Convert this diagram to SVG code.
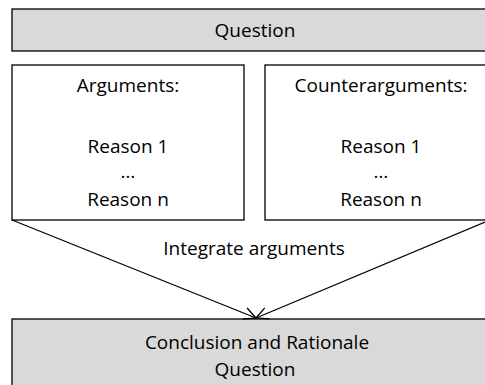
<svg xmlns="http://www.w3.org/2000/svg" width="485" height="385" viewBox="0 0 485 385">
<style>
.box{stroke:#000;stroke-width:1.3}
.g{fill:#d9d9d9}
.w{fill:#fff}
text{font-family:"Open Sans","Liberation Sans",sans-serif;font-size:19px;fill:#000;text-anchor:middle}
.c{stroke:#000;stroke-width:1.3;fill:none}
</style>
<defs>
<marker id="arr" viewBox="0 0 14 14" refX="13" refY="7" markerWidth="14" markerHeight="14" markerUnits="userSpaceOnUse" orient="auto">
<polyline points="1,1 13,7 1,13" fill="none" stroke="#000" stroke-width="1.3"/>
</marker>
</defs>
<rect width="485" height="385" fill="#fff"/>
<g id="question">
<rect class="box g" x="12" y="9" width="480" height="42"/>
<text x="255" y="37">Question</text>
</g>
<g id="arguments">
<rect class="box w" x="12" y="65" width="232" height="155"/>
<text x="128" y="92">Arguments:</text>
<text x="128" y="153">Reason 1</text>
<text x="128" y="178">…</text>
<text x="128" y="206">Reason n</text>
</g>
<g id="counterarguments">
<rect class="box w" x="265" y="65" width="230" height="155"/>
<text x="381" y="92">Counterarguments:</text>
<text x="381" y="153">Reason 1</text>
<text x="381" y="178">…</text>
<text x="381" y="206">Reason n</text>
</g>
<g id="conclusion">
<rect class="box g" x="12" y="319" width="480" height="80"/>
<text x="257" y="349">Conclusion and Rationale</text>
<text x="255" y="376">Question</text>
</g>
<g id="connectors">
<line class="c" x1="12" y1="220" x2="256" y2="318" marker-end="url(#arr)"/>
<line class="c" x1="485" y1="222" x2="256" y2="318" marker-end="url(#arr)"/>
<text x="254" y="255">Integrate arguments</text>
</g>
</svg>
